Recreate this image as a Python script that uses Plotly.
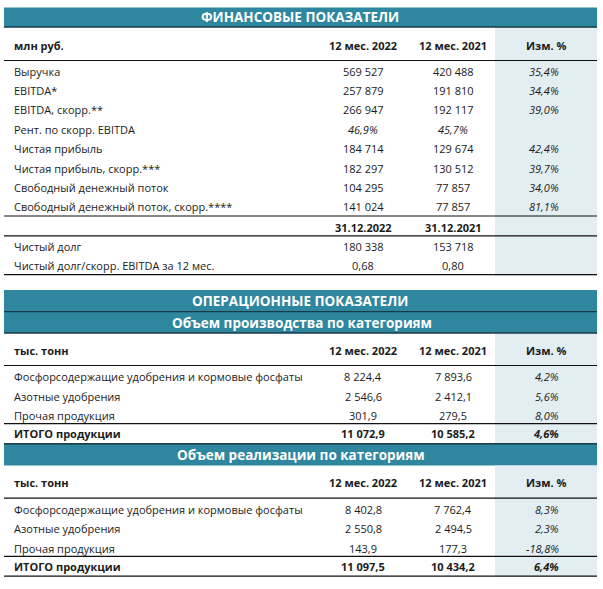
import plotly.graph_objects as go

# ---------------- data ----------------
fin_title = "ФИНАНСОВЫЕ ПОКАЗАТЕЛИ"
fin_unit = "млн руб."
period_headers = ["12 мес. 2022", "12 мес. 2021", "Изм. %"]
fin_labels = ["Выручка", "EBITDA*", "EBITDA, скорр.**", "Рент. по скорр. EBITDA",
              "Чистая прибыль", "Чистая прибыль, скорр.***", "Свободный денежный поток",
              "Свободный денежный поток, скорр.****"]
fin_2022 = [569527, 257879, 266947, 46.9, 184714, 182297, 104295, 141024]
fin_2021 = [420488, 191810, 192117, 45.7, 129674, 130512, 77857, 77857]
fin_chg = [35.4, 34.4, 39.0, None, 42.4, 39.7, 34.0, 81.1]
fin_is_pct = [False, False, False, True, False, False, False, False]

debt_dates = ["31.12.2022", "31.12.2021"]
debt_labels = ["Чистый долг", "Чистый долг/скорр. EBITDA за 12 мес."]
debt_2022 = [180338, 0.68]
debt_2021 = [153718, 0.80]
debt_dec = [0, 2]

op_title = "ОПЕРАЦИОННЫЕ ПОКАЗАТЕЛИ"
op_unit = "тыс. тонн"
prod_title = "Объем производства по категориям"
sales_title = "Объем реализации по категориям"
cat_labels = ["Фосфорсодержащие удобрения и кормовые фосфаты", "Азотные удобрения", "Прочая продукция"]
total_label = "ИТОГО продукции"
prod_2022 = [8224.4, 2546.6, 301.9]
prod_2021 = [7893.6, 2412.1, 279.5]
prod_chg = [4.2, 5.6, 8.0]
prod_total = [11072.9, 10585.2, 4.6]
sales_2022 = [8402.8, 2550.8, 143.9]
sales_2021 = [7762.4, 2494.5, 177.3]
sales_chg = [8.3, 2.3, -18.8]
sales_total = [11097.5, 10434.2, 6.4]

# ---------------- style ----------------
W, H = 603, 589
BAR = "#2E879E"
LIGHT = "#E3EEF3"
TXT = "#1b1b1b"
FONT = "Open Sans"
FS = 11
FS_TITLE = 13.5
X0, X1 = 4, 597
XL = 12
XC1, XC2, XC3 = 363, 453, 546
XPR = 561
COL_L = 495
RH = 19.4


def fmt(v, dec):
    s = f"{v:,.{dec}f}"
    return s.replace(",", " ").replace(".", ",")


shapes = []
ann = []


def rect(x0, y0, x1, y1, color):
    shapes.append(dict(type="rect", xref="x", yref="y", x0=x0, x1=x1, y0=y0, y1=y1,
                       fillcolor=color, line=dict(width=0), layer="below"))


def hline(y, color="#111111", w=1.2):
    shapes.append(dict(type="line", xref="x", yref="y", x0=X0, x1=X1, y0=y, y1=y,
                       line=dict(color=color, width=w)))


def text(x, y, s, anchor="left", size=FS, color=TXT, bold=False, italic=False):
    if italic:
        s = f"<i>{s}</i>"
    if bold:
        s = f"<b>{s}</b>"
    ann.append(dict(x=x, y=y, xref="x", yref="y", text=s, showarrow=False,
                    xanchor=anchor, yanchor="middle",
                    font=dict(family=FONT, size=size, color=color)))


def headers(y, unit):
    text(XL, y, unit, bold=True)
    text(XC1, y, period_headers[0], anchor="center", bold=True)
    text(XC2, y, period_headers[1], anchor="center", bold=True)
    text(XC3, y, period_headers[2], anchor="center", bold=True)


# ---------------- financial block ----------------
rect(COL_L, 27, X1, 276, LIGHT)
rect(X0, 7.5, X1, 27, BAR)
hline(27, "#173b47", 1.5)
text(300, 17, fin_title, anchor="center", size=FS_TITLE, color="white", bold=True)
headers(45, fin_unit)
hline(60.5)
top = 61.3
for i, lab in enumerate(fin_labels):
    y = top + RH * i + RH / 2
    text(XL, y, lab)
    if fin_is_pct[i]:
        text(XC1, y, fmt(fin_2022[i], 1) + "%", anchor="center", italic=True)
        text(XC2, y, fmt(fin_2021[i], 1) + "%", anchor="center", italic=True)
    else:
        text(XC1, y, fmt(fin_2022[i], 0), anchor="center")
        text(XC2, y, fmt(fin_2021[i], 0), anchor="center")
    if fin_chg[i] is not None:
        text(XPR, y, fmt(fin_chg[i], 1) + "%", anchor="right", italic=True)
y_date = top + RH * len(fin_labels)
hline(y_date - 0.5)
text(XC1, y_date + RH / 2 + 1.5, debt_dates[0], anchor="center", bold=True)
text(XC2, y_date + RH / 2 + 1.5, debt_dates[1], anchor="center", bold=True)
hline(y_date + RH)
for i, lab in enumerate(debt_labels):
    y = y_date + RH * (i + 1) + RH / 2 + 0.5
    text(XL, y, lab)
    text(XC1, y, fmt(debt_2022[i], debt_dec[i]), anchor="center")
    text(XC2, y, fmt(debt_2021[i], debt_dec[i]), anchor="center")
hline(y_date + RH * 3)

# ---------------- operational block ----------------
rect(X0, 290, X1, 333, BAR)
hline(311.7, "#173b47", 1.3)
hline(333, "#173b47", 1.3)
text(300, 301, op_title, anchor="center", size=FS_TITLE, color="white", bold=True)
text(302, 322.5, prod_title, anchor="center", size=FS_TITLE, color="white", bold=True)


def block(top_hdr, v22, v21, chg, total):
    rect(COL_L, top_hdr, X1, top_hdr + 33 + RH * 4 + 0.5, LIGHT)
    headers(top_hdr + 17, op_unit)
    y0 = top_hdr + 32.5
    hline(y0)
    for i, lab in enumerate(cat_labels):
        y = y0 + RH * i + RH / 2 + 1.5
        text(XL, y, lab)
        text(XC1, y, fmt(v22[i], 1), anchor="center")
        text(XC2, y, fmt(v21[i], 1), anchor="center")
        text(XPR, y, fmt(chg[i], 1) + "%", anchor="right", italic=True)
    yt = y0 + RH * 3
    hline(yt)
    y = yt + RH / 2 + 0.5
    text(XL, y, total_label, bold=True)
    text(XC1, y, fmt(total[0], 1), anchor="center", bold=True)
    text(XC2, y, fmt(total[1], 1), anchor="center", bold=True)
    text(XPR, y, fmt(total[2], 1) + "%", anchor="right", bold=True, italic=True)
    hline(yt + RH + 0.5)
    return yt + RH + 0.5


end1 = block(333, prod_2022, prod_2021, prod_chg, prod_total)
rect(X0, end1, X1, end1 + 22, BAR)
hline(end1, "#173b47", 1.3)
text(301, end1 + 11, sales_title, anchor="center", size=FS_TITLE, color="white", bold=True)
block(end1 + 22, sales_2022, sales_2021, sales_chg, sales_total)

fig = go.Figure()
fig.update_layout(
    width=W, height=H, margin=dict(l=0, r=0, t=0, b=0),
    paper_bgcolor="white", plot_bgcolor="white",
    xaxis=dict(range=[0, W], visible=False, fixedrange=True),
    yaxis=dict(range=[H, 0], visible=False, fixedrange=True),
    shapes=shapes, annotations=ann, showlegend=False,
)
fig.write_html("out.html", config={"displayModeBar": False},
               post_script="document.body.style.margin='0';")
